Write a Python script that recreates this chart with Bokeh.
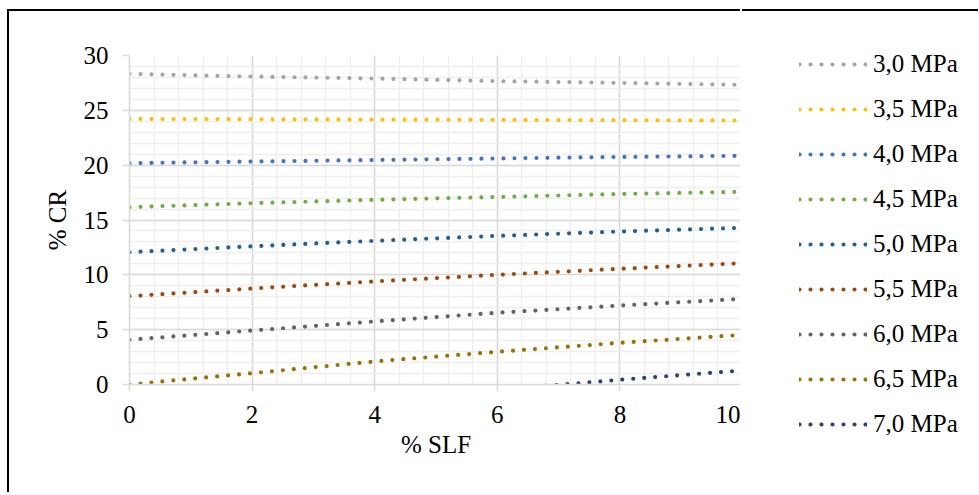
from bokeh.plotting import figure
from bokeh.models import Legend, LegendItem, SingleIntervalTicker, Range1d
from bokeh.embed import file_html
from bokeh.resources import INLINE

# ---- data ----
slf = [0, 2, 4, 6, 8, 10]
series_names = ["3,0 MPa", "3,5 MPa", "4,0 MPa", "4,5 MPa", "5,0 MPa",
                "5,5 MPa", "6,0 MPa", "6,5 MPa", "7,0 MPa"]
cr_30 = [28.33, 28.08, 27.90, 27.66, 27.50, 27.32]
cr_35 = [24.22, 24.19, 24.16, 24.13, 24.10, 24.07]
cr_40 = [20.18, 20.33, 20.47, 20.61, 20.75, 20.85]
cr_45 = [16.17, 16.53, 16.84, 17.10, 17.37, 17.57]
cr_50 = [12.06, 12.60, 13.10, 13.55, 13.95, 14.29]
cr_55 = [8.05, 8.75, 9.40, 10.00, 10.55, 11.06]
cr_60 = [4.08, 4.92, 5.75, 6.54, 7.20, 7.81]
cr_65 = [0.00, 1.03, 2.10, 2.98, 3.80, 4.53]
cr_70 = [-3.80, -2.60, -1.50, -0.50, 0.43, 1.28]
series_values = [cr_30, cr_35, cr_40, cr_45, cr_50, cr_55, cr_60, cr_65, cr_70]
colors = ["#A5A5A5", "#FFC000", "#4472C4", "#70AD47", "#255E91",
          "#9E480E", "#636363", "#997300", "#264478"]

FONT = "Liberation Serif"
H = 483
W_MAIN = 733
W_LEG = 236

p = figure(width=W_MAIN, height=H, output_backend="svg", toolbar_location=None,
           x_range=Range1d(0, 10), y_range=Range1d(0, 30),
           min_border_left=120, min_border_top=44,
           min_border_right=0, min_border_bottom=H - 373)
p.styles = {"margin-left": "7px", "margin-top": "9px",
            "border-left": "2px solid black", "border-top": "2px solid black"}
p.outline_line_color = None
p.background_fill_color = "white"
p.border_fill_color = "white"

p.xaxis.ticker = SingleIntervalTicker(interval=2, num_minor_ticks=5)
p.yaxis.ticker = SingleIntervalTicker(interval=5, num_minor_ticks=5)

for g in (p.xgrid, p.ygrid):
    g.grid_line_color = "#d9d9d9"
    g.grid_line_width = 1.6
    g.minor_grid_line_color = "#eeeeee"
    g.minor_grid_line_width = 1.3

for ax in (p.xaxis, p.yaxis):
    ax.axis_line_color = "#d9d9d9"
    ax.axis_line_width = 1.6
    ax.major_tick_line_color = "#d9d9d9"
    ax.major_tick_line_width = 1.6
    ax.major_tick_out = 7
    ax.major_tick_in = 0
    ax.minor_tick_line_color = None
    ax.major_label_text_font = FONT
    ax.major_label_text_font_size = "25px"
    ax.major_label_text_color = "black"
    ax.axis_label_text_font = FONT
    ax.axis_label_text_font_size = "25px"
    ax.axis_label_text_font_style = "normal"
    ax.axis_label_text_color = "black"

p.xaxis.axis_label = "% SLF"
p.yaxis.axis_label = "% CR"
p.xaxis.major_label_standoff = 14
p.xaxis.axis_label_standoff = 5
p.yaxis.major_label_standoff = 14
p.yaxis.axis_label_standoff = 10

# legend panel: a separate figure (own root, absolutely placed to the right)
# whose frame fills it; it holds off-range proxy lines for the legend items
pl = figure(width=W_LEG, height=H, output_backend="svg", toolbar_location=None,
            x_axis_type=None, y_axis_type=None,
            x_range=Range1d(100, 101), y_range=Range1d(100, 101),
            min_border_left=0, min_border_right=0,
            min_border_top=0, min_border_bottom=0)
pl.styles = {"position": "absolute", "left": "742px", "top": "9px",
             "border-top": "2px solid black"}
pl.outline_line_color = None
pl.background_fill_color = "white"
pl.border_fill_color = "white"

items = []
for name, vals, col in zip(series_names, series_values, colors):
    p.line(slf, vals, line_color=col, line_width=4.2,
           line_dash="0 11", line_cap="round")
    proxy = pl.line(slf, vals, line_color=col, line_width=4.2,
                    line_dash="0 11", line_cap="round")
    items.append(LegendItem(label=name, renderers=[proxy]))

legend = Legend(items=items, location=(57, 56),
                glyph_width=68, glyph_height=28, label_height=28,
                label_standoff=6, spacing=17, padding=0, margin=0,
                border_line_color=None, background_fill_alpha=0,
                label_text_font=FONT, label_text_font_size="25px",
                label_text_color="black")
pl.add_layout(legend, "center")

open("out.html", "w").write(file_html([p, pl], INLINE))
